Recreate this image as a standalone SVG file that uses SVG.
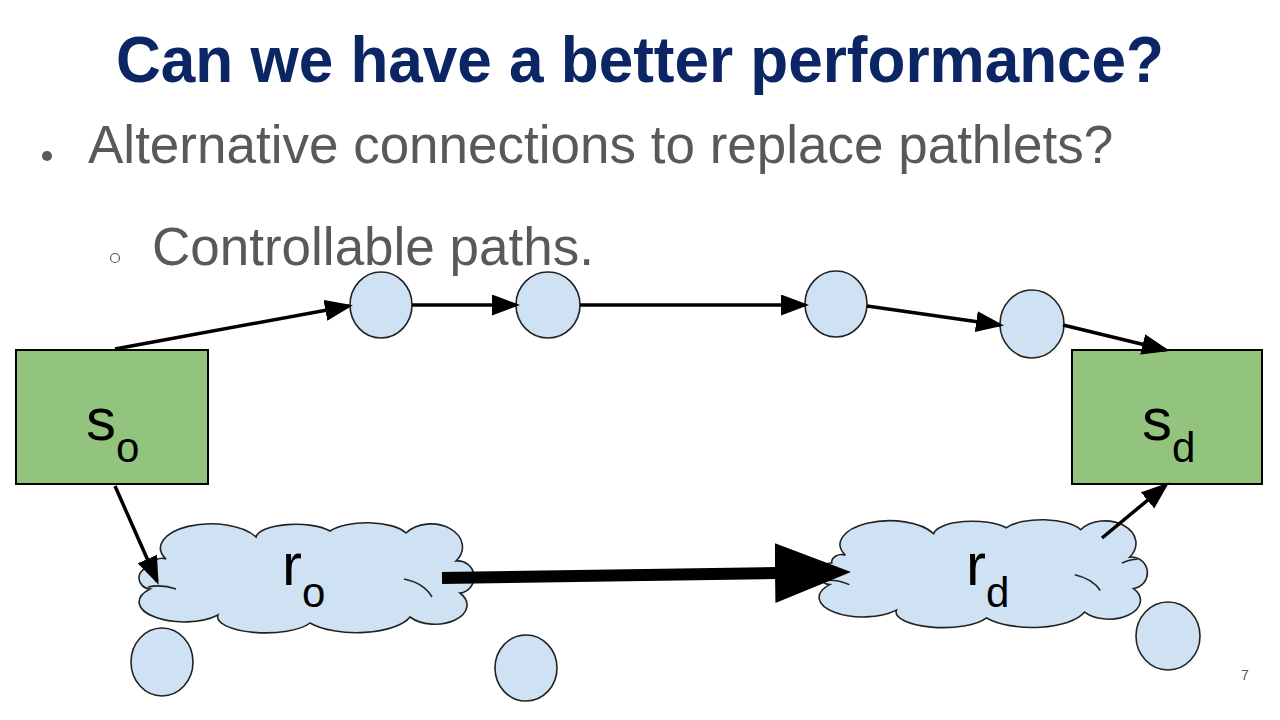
<svg xmlns="http://www.w3.org/2000/svg" width="1280" height="720" viewBox="0 0 1280 720">
  <style>
    .title { font-family: "Liberation Sans", Arial, sans-serif; font-weight: bold; font-size: 64px; fill: #0b2565; }
    .body { font-family: "Liberation Sans", Arial, sans-serif; font-size: 53px; fill: #595959; }
    .lbl { font-family: "Liberation Sans", Arial, sans-serif; font-size: 60px; fill: #000; }
    .sub { font-size: 42px; }
    .box { fill: #93c47d; stroke: #000; stroke-width: 2; }
    .hop { fill: #cfe2f3; stroke: #222; stroke-width: 1.6; }
    .cloud { fill: #cfe2f3; stroke: #222; stroke-width: 1.6; }
    .inner { fill: none; stroke: #222; stroke-width: 1.6; }
    .edge { fill: none; stroke: #000; stroke-width: 3.5; }
    .bulk { fill: none; stroke: #000; stroke-width: 12; }
  </style>
  <defs>
    <marker id="head" markerUnits="userSpaceOnUse" markerWidth="30" markerHeight="24" refX="24" refY="10.5" orient="auto">
      <path d="M0,0 L28,10.5 L0,21 z" fill="#000"/>
    </marker>
    <marker id="bighead" markerUnits="userSpaceOnUse" markerWidth="80" markerHeight="62" refX="1" refY="30" orient="auto">
      <path d="M0,0 L76,30 L0,60 z" fill="#000"/>
    </marker>
    <!-- cloud outline in a 335 x 112 local box -->
    <path id="cloudShape" d="M 28 38
      A 50 24 0 0 1 118 16
      A 40 14 0 0 1 192 10
      A 42 16 0 0 1 268 12
      A 30 22 0 0 1 318 40
      A 16 16 0 0 1 322 72
      A 30 18 0 0 1 272 96
      A 56 22 0 0 1 172 102
      A 48 16 0 0 1 80 94
      A 36 16 0 0 1 12 68
      A 12 11 0 0 1 14 46
      A 10 8 0 0 1 28 38 Z"/>
  </defs>

  <rect width="1280" height="720" fill="#fff"/>

  <!-- slide text -->
  <text class="title" x="116" y="82" textLength="1048" lengthAdjust="spacingAndGlyphs">Can we have a better performance?</text>
  <circle cx="47" cy="156" r="5" fill="#595959"/>
  <text class="body" x="88" y="163">Alternative connections to replace pathlets?</text>
  <circle cx="115" cy="258" r="4.5" fill="none" stroke="#595959" stroke-width="1.2"/>
  <text class="body" x="152" y="265">Controllable paths.</text>

  <!-- source and destination -->
  <g id="s_o">
    <rect class="box" x="16" y="350" width="192" height="134"/>
    <text class="lbl" x="86" y="440">s<tspan class="sub" x="116" y="462">o</tspan></text>
  </g>
  <g id="s_d">
    <rect class="box" x="1072" y="350" width="190" height="134"/>
    <text class="lbl" x="1142" y="440">s<tspan class="sub" x="1172" y="462">d</tspan></text>
  </g>

  <!-- intermediate hops -->
  <g id="hop1"><ellipse class="hop" cx="381" cy="305" rx="31" ry="33"/></g>
  <g id="hop2"><ellipse class="hop" cx="548" cy="305" rx="32" ry="33"/></g>
  <g id="hop3"><ellipse class="hop" cx="836" cy="304" rx="31" ry="33"/></g>
  <g id="hop4"><ellipse class="hop" cx="1032" cy="324" rx="32" ry="34"/></g>
  <g id="hop5"><ellipse class="hop" cx="162" cy="662" rx="31" ry="34"/></g>
  <g id="hop6"><ellipse class="hop" cx="526" cy="668" rx="31" ry="33"/></g>
  <g id="hop7"><ellipse class="hop" cx="1168" cy="636" rx="32" ry="34"/></g>

  <!-- regions -->
  <g id="r_o">
    <g transform="translate(138,521)">
      <use href="#cloudShape" class="cloud"/>
      <path class="inner" d="M 10 66 Q 24 63 38 68"/>
      <path class="inner" d="M 266 58 Q 286 62 294 76"/>
    </g>
    <text class="lbl" x="282" y="585">r<tspan class="sub" x="302" y="607">o</tspan></text>
  </g>
  <g id="r_d">
    <g transform="translate(818,518) scale(0.98)">
      <use href="#cloudShape" class="cloud"/>
      <path class="inner" d="M 6 64 Q 18 62 32 68"/>
      <path class="inner" d="M 262 58 Q 280 62 288 74"/>
      <path class="inner" d="M 310 46 Q 318 42 326 42"/>
    </g>
    <text class="lbl" x="966" y="585">r<tspan class="sub" x="986" y="607">d</tspan></text>
  </g>

  <!-- connectors, drawn over the nodes -->
  <g id="connectors">
    <line class="edge" x1="115" y1="349" x2="349" y2="306" marker-end="url(#head)"/>
    <line class="edge" x1="412" y1="305" x2="516" y2="305" marker-end="url(#head)"/>
    <line class="edge" x1="580" y1="305" x2="805" y2="305" marker-end="url(#head)"/>
    <line class="edge" x1="867" y1="306" x2="1000" y2="325" marker-end="url(#head)"/>
    <line class="edge" x1="1063" y1="325" x2="1166" y2="350" marker-end="url(#head)"/>
    <line class="edge" x1="115" y1="486" x2="157" y2="581" marker-end="url(#head)"/>
    <line class="edge" x1="1102" y1="538" x2="1166" y2="485" marker-end="url(#head)"/>
    <line class="bulk" x1="442" y1="578" x2="776" y2="573" marker-end="url(#bighead)"/>
  </g>

  <text x="1245" y="680" text-anchor="middle" font-family="Liberation Sans, Arial, sans-serif" font-size="14" fill="#595959">7</text>
</svg>
